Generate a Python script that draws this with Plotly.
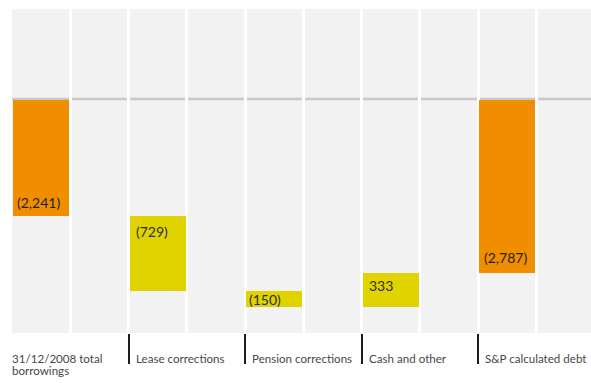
import plotly.graph_objects as go

# Net debt bridge: reported borrowings to S&P calculated debt (GBP m)
CATEGORIES = [
    "31/12/2008 total<br>borrowings",
    "Lease corrections",
    "Pension corrections",
    "Cash and other",
    "S&P calculated debt",
]
VALUES = [-2241, -729, -150, 333, -2787]
MEASURES = ["total", "relative", "relative", "relative", "total"]

# Broken value axis: totals hang from this floor line rather than from zero
AXIS_FLOOR = -1112
Y_RANGE = [-3374, -228]

ORANGE = "#f18e00"
YELLOW = "#e1d300"
BG = "#f2f2f2"
FONT = "Lato"


def fmt(v):
    s = f"{abs(v):,}"
    return f"({s})" if v < 0 else s


# bar geometry from the running total
bases, heights, colors, xs = [], [], [], []
running = 0
for i, (v, m) in enumerate(zip(VALUES, MEASURES)):
    if m == "total":
        bases.append(AXIS_FLOOR)
        heights.append(v - AXIS_FLOOR)
        colors.append(ORANGE)
        running = v
    else:
        bases.append(running)
        heights.append(v)
        colors.append(YELLOW)
        running += v
    xs.append(2 * i + 0.5)

fig = go.Figure(
    go.Bar(
        x=xs,
        y=heights,
        base=bases,
        width=0.965,
        marker=dict(color=colors, line=dict(width=0)),
        hoverinfo="skip",
    )
)

# value labels: totals sit near the bar bottom, movements near the bar top
LABEL_DY = [14, -15, -8, -13, 15]
LABEL_DX = [2, 4, 1, 4, 3]
annotations = []
for i, v in enumerate(VALUES):
    lo = min(bases[i], bases[i] + heights[i])
    hi = max(bases[i], bases[i] + heights[i])
    y_edge = lo if MEASURES[i] == "total" else hi
    annotations.append(dict(
        x=xs[i] - 0.4825, y=y_edge, xref="x", yref="y",
        text=fmt(v), showarrow=False, xanchor="left", yanchor="middle",
        xshift=LABEL_DX[i], yshift=LABEL_DY[i],
        font=dict(family=FONT, size=14,
                  color="#1e1e1e" if MEASURES[i] == "total" else "#2e2e2e"),
    ))

# category labels, left-aligned after each separator tick
CAT_DX = [-2, 5, 5, 5, 5]
for i, cat in enumerate(CATEGORIES):
    for j, line in enumerate(cat.split("<br>")):
        annotations.append(dict(
            x=2 * i, y=0, xref="x", yref="paper",
            text=line, showarrow=False, xanchor="left", yanchor="top",
            xshift=CAT_DX[i], yshift=-17 - 12 * j,
            font=dict(family=FONT, size=11.6, color="#474747"),
        ))

fig.update_layout(
    width=591,
    height=383,
    margin=dict(l=12, r=0, t=9, b=50),
    paper_bgcolor="white",
    plot_bgcolor=BG,
    showlegend=False,
    bargap=0,
    annotations=annotations,
    shapes=[dict(
        type="line", xref="paper", x0=0, x1=1,
        yref="y", ysizemode="pixel", yanchor=AXIS_FLOOR, y0=1, y1=1,
        line=dict(color="#c8c8c8", width=2.5), layer="below",
    )],
    xaxis=dict(
        range=[0, 9.94],
        tickvals=[2, 4, 6, 8],
        showticklabels=False,
        ticks="outside", ticklen=30, tickwidth=2, tickcolor="#1c1c24",
        showgrid=True, gridcolor="white", gridwidth=2.5,
        minor=dict(dtick=1, tick0=0, showgrid=True, gridcolor="white",
                   gridwidth=2.5, ticks=""),
        zeroline=False, showline=False, fixedrange=True,
    ),
    yaxis=dict(
        range=Y_RANGE,
        showgrid=False, zeroline=False, showticklabels=False,
        showline=False, fixedrange=True,
    ),
)

fig.write_html("out.html")
